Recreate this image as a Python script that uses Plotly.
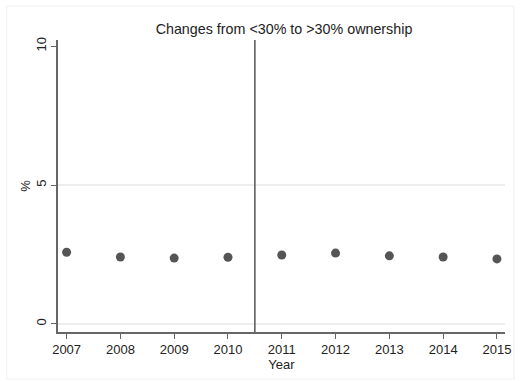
import plotly.graph_objects as go

years = [2007, 2008, 2009, 2010, 2011, 2012, 2013, 2014, 2015]
pct = [2.58, 2.41, 2.37, 2.40, 2.48, 2.55, 2.45, 2.41, 2.34]
ytick_vals = [0, 5, 10]
grid_vals = [0, 5]
break_year = 2010.5

W, H = 522, 381
ml, mr, mt, mb = 58, 11, 40, 49

fig = go.Figure()
fig.add_trace(go.Scatter(
    x=years, y=pct, mode="markers",
    marker=dict(size=9, color="#555555"),
    showlegend=False, cliponaxis=False,
))

shapes = []
for g in grid_vals:
    shapes.append(dict(type="line", xref="paper", yref="y", x0=0, x1=1, y0=g, y1=g,
                       line=dict(color="#e8e8e8", width=1.5), layer="below"))
shapes.append(dict(type="line", xref="x", yref="paper", x0=break_year, x1=break_year, y0=0, y1=1,
                   line=dict(color="#555555", width=1.5)))
# faint outer frame
pw = W - ml - mr
ph = H - mt - mb
fx0 = (6 - ml) / pw
fx1 = (W - 2 - ml) / pw
fy1 = (H - mb - 6) / ph
fy0 = (H - mb - (H - 2)) / ph
shapes.append(dict(type="rect", xref="paper", yref="paper", x0=fx0, x1=fx1, y0=fy0, y1=fy1,
                   line=dict(color="#f0f0f0", width=1), layer="below"))

fig.update_layout(
    width=W, height=H,
    margin=dict(l=ml, r=mr, t=mt, b=mb),
    paper_bgcolor="white", plot_bgcolor="white",
    font=dict(family="Liberation Sans, Arial, sans-serif", size=13, color="#222222"),
    title=dict(text="Changes from <30% to >30% ownership", x=(284) / W, xanchor="center",
               y=1 - 29 / H, yanchor="middle", font=dict(size=14.3)),
    shapes=shapes,
    xaxis=dict(range=[2006.84, 2015.15], tickvals=years, ticktext=[str(y) for y in years],
               showgrid=False, zeroline=False, showline=True, linecolor="#666666", linewidth=1.5,
               ticks="outside", ticklen=5, tickcolor="#666666",
               title=dict(text="Year", standoff=0, font=dict(size=13)),
               tickfont=dict(size=13)),
    yaxis=dict(range=[-0.29, 10.22], tickvals=ytick_vals, ticktext=[str(v) for v in ytick_vals],
               tickangle=-90, showgrid=False, zeroline=False, showline=True, linecolor="#666666",
               linewidth=1.5, ticks="outside", ticklen=5, tickcolor="#666666",
               title=dict(text="%", standoff=0, font=dict(size=13)),
               tickfont=dict(size=13)),
)

fig.write_html("out.html")
